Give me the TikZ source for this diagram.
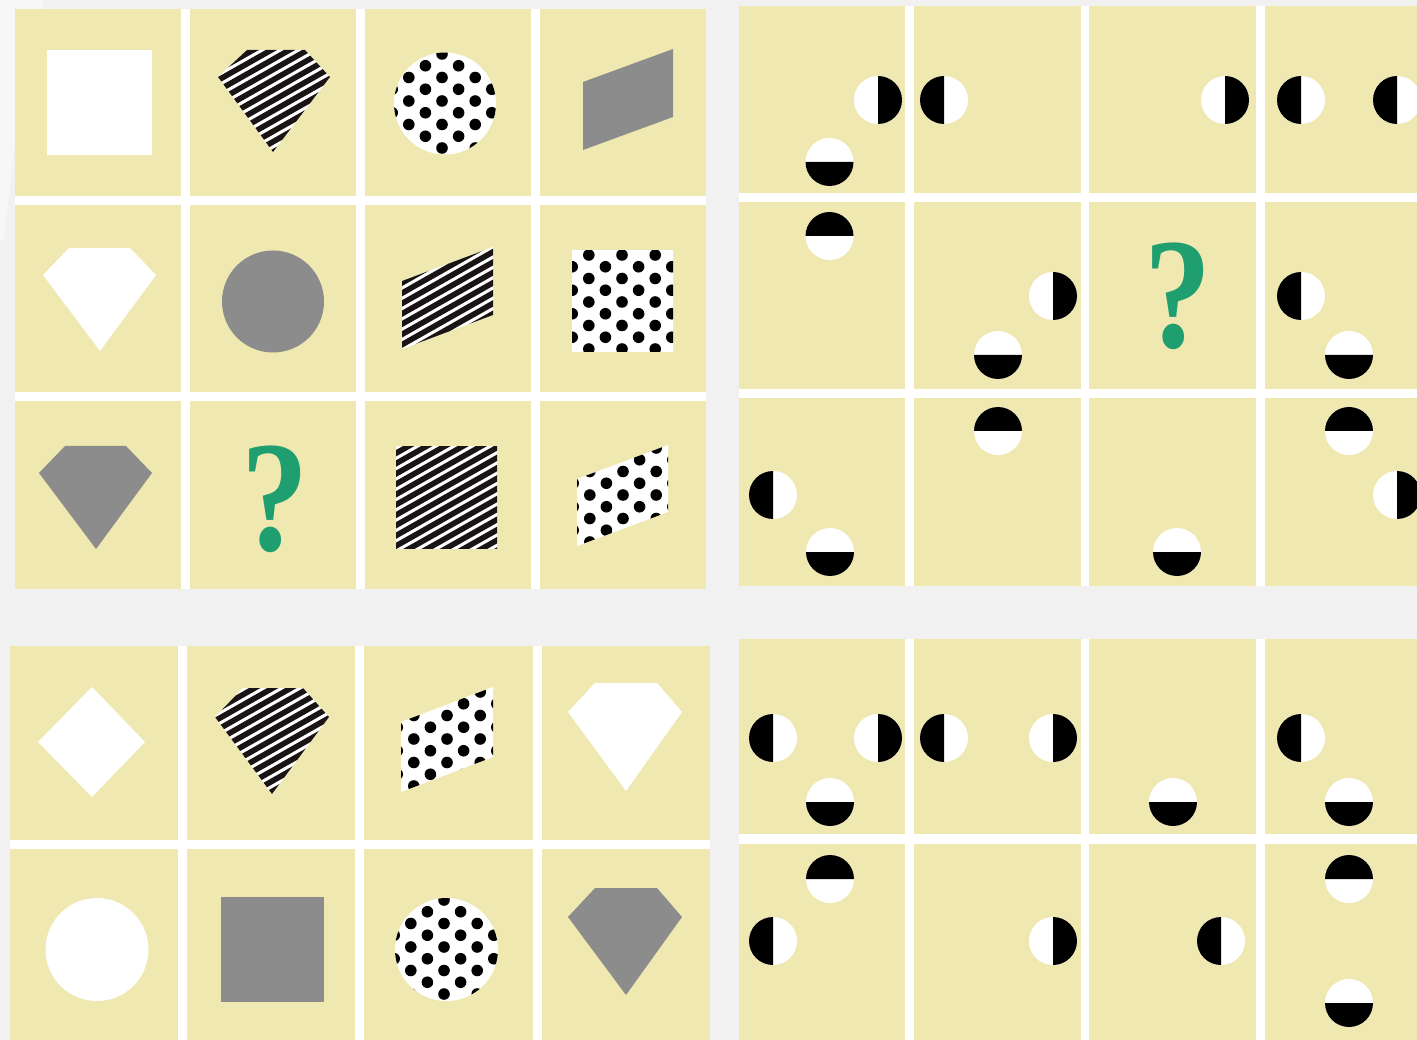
\documentclass[tikz,border=0pt]{standalone}
\usepackage{fontspec}
\newfontfamily\qfont{Liberation Serif}
\definecolor{bggrey}{RGB}{241,241,241}
\definecolor{cellyellow}{RGB}{239,232,176}
\definecolor{shapegrey}{RGB}{140,140,140}
\definecolor{qgreen}{RGB}{31,158,112}
\definecolor{lightpatch}{RGB}{247,247,247}
\definecolor{stripeblack}{RGB}{26,20,20}
\newcommand\mystripes[2]{%
  \fill[white] ({#1-90},{#2-90}) rectangle ({#1+90},{#2+90});
  \foreach \k in {-16,...,16}{\draw[stripe] ({#1-90},{#2+\k*10.3+51}) -- ({#1+90},{#2+\k*10.3-51});}}
\newcommand\mydots[2]{%
  \fill[white] ({#1-70},{#2-70}) rectangle ({#1+70},{#2+70});
  \foreach \i in {-5,...,5}{\foreach \j in {-4,...,4}{%
    \fill[black] ({#1+\i*16.6},{#2+\j*23.5+mod(abs(\i),2)*11.75}) circle[radius=5.8];}}}
\tikzset{
  cell/.style={fill=cellyellow},
  panel/.style={fill=white},
  stripe/.style={line width=5.6pt, draw=stripeblack},
  greyshape/.style={fill=shapegrey},
  whiteshape/.style={fill=white},
  qmark/.style={text=qgreen, font=\qfont\bfseries\fontsize{158}{158}\selectfont, inner sep=0pt},
  halfdisc/.pic={\fill[white] (0,0) circle[radius=24];
    \fill[black] (#1:24) arc[start angle=#1, end angle=#1-180, radius=24] -- cycle;}
}
\begin{document}
\begin{tikzpicture}[x=1pt,y=-1pt]
\useasboundingbox (0,0) rectangle (1417,1040);
\clip (0,0) rectangle (1417,1040);
\fill[bggrey] (0,0) rectangle (1417,1040);
\fill[lightpatch] (0,0) -- (44,0) -- (14,150) -- (4,240) -- (0,240) -- cycle;
% ---------- panels and cells
\fill[panel] (15,9) rectangle (706,589);
\foreach \xa/\xb in {15/181,190/356,365/531,540/706}{\foreach \ya/\yb in {9/196,205/392,401/589}{\fill[cell] (\xa,\ya) rectangle (\xb,\yb);}}
\fill[panel] (739,6) rectangle (1417,586);
\foreach \xa/\xb in {739/905,914/1081,1089/1256,1265/1440}{\foreach \ya/\yb in {6/193,202/389,398/586}{\fill[cell] (\xa,\ya) rectangle (\xb,\yb);}}
\fill[panel] (10,646) rectangle (710,1040);
\foreach \xa/\xb in {10/178,187/355,364/533,542/710}{\foreach \ya/\yb in {646/840,849/1045}{\fill[cell] (\xa,\ya) rectangle (\xb,\yb);}}
\fill[panel] (739,639) rectangle (1417,1040);
\foreach \xa/\xb in {739/905,914/1081,1089/1256,1265/1440}{\foreach \ya/\yb in {639/834,844/1045}{\fill[cell] (\xa,\ya) rectangle (\xb,\yb);}}
% ---------- top-left panel
\fill[whiteshape] (47,50) rectangle (152,155);
\begin{scope}
  \clip (218,77) -- (247,50) -- (305,50) -- (330,77) -- (273,152) -- cycle;
  \mystripes{274}{100}
\end{scope}
\begin{scope}
  \clip (445,103.5) circle[radius=51];
  \mydots{442}{101}
\end{scope}
\fill[greyshape] (583,82) -- (673,49) -- (673,117) -- (583,150) -- cycle;
\fill[whiteshape] (43,275) -- (69,248) -- (130,248) -- (156,275) -- (100,351) -- cycle;
\fill[greyshape] (273,301.5) circle[radius=51];
\begin{scope}
  \clip (402,281) -- (493,247) -- (493,315) -- (402,349) -- cycle;
  \mystripes{448}{298}
\end{scope}
\begin{scope}
  \clip (572,251) rectangle (673,352);
  \mydots{622}{302}
\end{scope}
\fill[greyshape] (39,473) -- (65,446) -- (126,446) -- (152,473) -- (96,549) -- cycle;
\node[qmark] (qa) at (275,499) {\scalebox{0.85}[1]{?}};
\begin{scope}
  \clip (396,447) rectangle (497,548);
  \mystripes{446}{497}
\end{scope}
\begin{scope}
  \clip (577,479) -- (668,445) -- (668,512) -- (577,546) -- cycle;
  \mydots{623}{495}
\end{scope}
% ---------- bottom-left panel
\fill[whiteshape] (92,687) -- (145,742) -- (92,797) -- (38,742) -- cycle;
\begin{scope}
  \clip (215,717) -- (243,688) -- (303,688) -- (329,717) -- (272,794) -- cycle;
  \mystripes{272}{740}
\end{scope}
\begin{scope}
  \clip (401,722) -- (493,687) -- (493,757) -- (401,792) -- cycle;
  \mydots{447}{739}
\end{scope}
\fill[whiteshape] (568,712) -- (595,683) -- (657,683) -- (682,712) -- (626,791) -- cycle;
\fill[whiteshape] (97,949.5) circle[radius=51.5];
\fill[greyshape] (221,897) rectangle (324,1002);
\begin{scope}
  \clip (446.5,949.5) circle[radius=51.5];
  \mydots{444}{947}
\end{scope}
\fill[greyshape] (568,917) -- (595,888) -- (657,888) -- (682,917) -- (626,995) -- cycle;
% ---------- top-right panel (half discs)
% 90: black right, 270: black left, 180: black bottom, 0: black top
\pic at (878,100) {halfdisc=90};
\pic at (829.5,162) {halfdisc=180};
\pic at (944,100) {halfdisc=270};
\pic at (1225,100) {halfdisc=90};
\pic at (1301,100) {halfdisc=270};
\pic at (1397,100) {halfdisc=270};
\pic at (829.5,236) {halfdisc=0};
\pic at (1053,296) {halfdisc=90};
\pic at (998,355) {halfdisc=180};
\node[qmark] (qb) at (1178,296.5) {\scalebox{0.85}[1]{?}};
\pic at (1301,296) {halfdisc=270};
\pic at (1349,355) {halfdisc=180};
\pic at (773,495) {halfdisc=270};
\pic at (830,552) {halfdisc=180};
\pic at (998,431) {halfdisc=0};
\pic at (1177,552) {halfdisc=180};
\pic at (1349,431) {halfdisc=0};
\pic at (1397,495) {halfdisc=90};
% ---------- bottom-right panel (half discs)
\pic at (773,738) {halfdisc=270};
\pic at (878,738) {halfdisc=90};
\pic at (830,802) {halfdisc=180};
\pic at (944,738) {halfdisc=270};
\pic at (1053,738) {halfdisc=90};
\pic at (1173,802) {halfdisc=180};
\pic at (1301,738) {halfdisc=270};
\pic at (1349,802) {halfdisc=180};
\pic at (830,879) {halfdisc=0};
\pic at (773,941) {halfdisc=270};
\pic at (1053,941) {halfdisc=90};
\pic at (1221,941) {halfdisc=270};
\pic at (1349,879) {halfdisc=0};
\pic at (1349,1003) {halfdisc=180};
\end{tikzpicture}
\end{document}
